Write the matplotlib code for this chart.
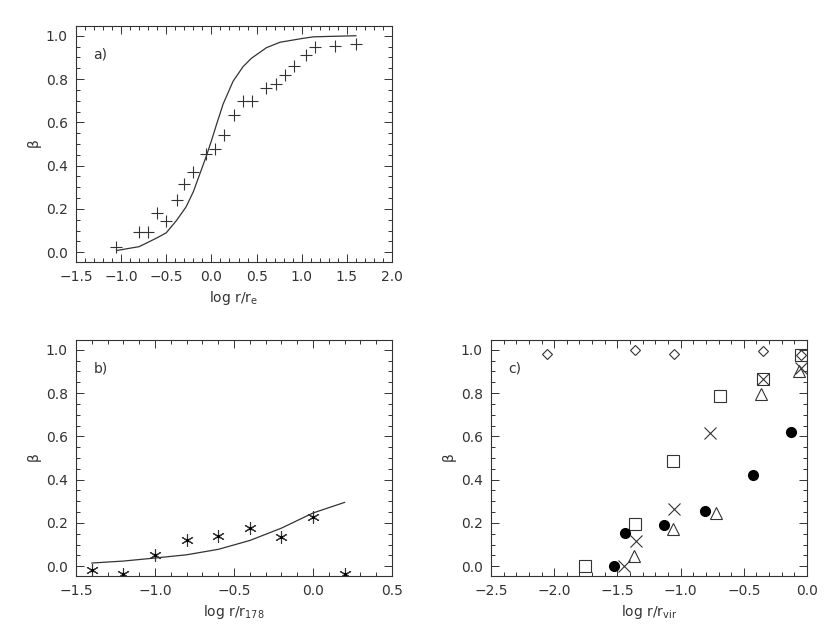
import matplotlib
matplotlib.use('Agg')
from matplotlib import pyplot as plt
from matplotlib.ticker import MultipleLocator

plt.rcParams['font.family'] = 'DejaVu Sans'
plt.rcParams['mathtext.default'] = 'regular'

INK = '#333333'

# panel a) data
a_x = [-1.06, -0.80, -0.70, -0.60, -0.50, -0.38, -0.30, -0.20, -0.06, 0.04, 0.14,
       0.25, 0.35, 0.45, 0.60, 0.71, 0.81, 0.91, 1.05, 1.15, 1.37, 1.60]
a_y = [0.023, 0.092, 0.095, 0.183, 0.146, 0.24, 0.314, 0.372, 0.454, 0.478, 0.54,
       0.632, 0.70, 0.70, 0.76, 0.775, 0.817, 0.86, 0.909, 0.946, 0.954, 0.962]
a_curve_x = [-1.05, -0.80, -0.61, -0.50, -0.39, -0.28, -0.20, -0.13, -0.06, 0.00,
             0.06, 0.13, 0.24, 0.35, 0.44, 0.61, 0.76, 1.00, 1.13, 1.60]
a_curve_y = [0.008, 0.026, 0.065, 0.09, 0.145, 0.21, 0.28, 0.36, 0.44, 0.515,
             0.595, 0.685, 0.79, 0.857, 0.895, 0.945, 0.97, 0.987, 0.995, 1.0]

# panel b) data
b_x = [-1.4, -1.2, -1.0, -0.8, -0.6, -0.4, -0.2, 0.0, 0.2]
b_y = [-0.015, -0.038, 0.053, 0.12, 0.139, 0.176, 0.137, 0.229, -0.038]
b_curve_x = [-1.4, -1.2, -1.0, -0.8, -0.6, -0.4, -0.2, 0.0, 0.2]
b_curve_y = [0.015, 0.024, 0.038, 0.053, 0.078, 0.119, 0.176, 0.246, 0.295]

# panel c) data
c_diam_x = [-2.06, -1.36, -1.05, -0.35, -0.05]
c_diam_y = [0.982, 0.997, 0.982, 0.992, 0.978]
c_sq_x = [-1.76, -1.36, -1.06, -0.69, -0.35, -0.05]
c_sq_y = [0.0, 0.197, 0.485, 0.786, 0.867, 0.977]
c_x_x = [-1.45, -1.35, -1.05, -0.77, -0.35, -0.05]
c_x_y = [0.0, 0.118, 0.266, 0.615, 0.867, 0.917]
c_tri_x = [-1.37, -1.06, -0.72, -0.36, -0.06]
c_tri_y = [0.049, 0.174, 0.245, 0.794, 0.90]
c_dot_x = [-1.53, -1.44, -1.13, -0.81, -0.43, -0.13]
c_dot_y = [0.0, 0.153, 0.191, 0.254, 0.42, 0.621]

W, H = 830, 628
fig = plt.figure(figsize=(W / 100, H / 100), dpi=100)


def make_axes(left, top, xlim, xlabel, tag):
    """Create one IDL-style panel from pixel box."""
    w, h = 316, 236
    ax = fig.add_axes([left / W, (H - top - h) / H, w / W, h / H])
    ax.set_xlim(*xlim)
    ax.set_ylim(-0.045, 1.045)
    ax.xaxis.set_major_locator(MultipleLocator(0.5))
    ax.xaxis.set_minor_locator(MultipleLocator(0.1))
    ax.yaxis.set_major_locator(MultipleLocator(0.2))
    ax.yaxis.set_minor_locator(MultipleLocator(0.05))
    ax.tick_params(which='both', direction='in', top=True, right=True,
                   color=INK, labelcolor=INK, labelsize=10, width=0.7)
    ax.tick_params(which='major', length=6, pad=6)
    ax.tick_params(which='minor', length=3)
    for s in ax.spines.values():
        s.set_color(INK)
        s.set_linewidth(0.8)
    ax.set_xlabel(xlabel, color=INK, fontsize=10)
    ax.xaxis.set_label_coords(0.5, -36 / h)
    ax.xaxis.label.set_va('center')
    ax.set_ylabel(r'$\beta$', color=INK, fontsize=10)
    ax.yaxis.set_label_coords(-41 / w, 0.5)
    ax.yaxis.label.set_va('center')
    ax.text(0.055, 0.88, tag, transform=ax.transAxes, color=INK, fontsize=10,
            ha='left', va='center')
    return ax


# a)
ax = make_axes(76, 26, (-1.5, 2.0), r'log r/r$_{e}$', 'a)')
ax.plot(a_curve_x, a_curve_y, color=INK, lw=0.9)
ax.plot(a_x, a_y, ls='none', marker='+', ms=8, mew=0.8, color=INK)

# b)
ax = make_axes(76, 340, (-1.5, 0.5), r'log r/r$_{178}$', 'b)')
ax.plot(b_curve_x, b_curve_y, color=INK, lw=0.9)
ax.plot(b_x, b_y, ls='none', marker=(6, 2, 0), ms=9, mew=0.8, color=INK)
ax.plot(b_x, b_y, ls='none', marker='o', ms=1.5, color='black')

# c)
ax = make_axes(491, 340, (-2.5, 0.0), r'log r/r$_{vir}$', 'c)')
ax.plot(c_diam_x, c_diam_y, ls='none', marker='D', ms=5, mew=0.8,
        mfc='none', mec=INK)
ax.plot(c_sq_x, c_sq_y, ls='none', marker='s', ms=8, mew=0.8,
        mfc='none', mec=INK)
ax.plot(c_x_x, c_x_y, ls='none', marker='x', ms=8, mew=0.8, color=INK)
ax.plot(c_tri_x, c_tri_y, ls='none', marker='^', ms=8, mew=0.8,
        mfc='none', mec=INK)
ax.plot(c_dot_x, c_dot_y, ls='none', marker='o', ms=7, color='black')

fig.savefig('out.png', dpi=100)
